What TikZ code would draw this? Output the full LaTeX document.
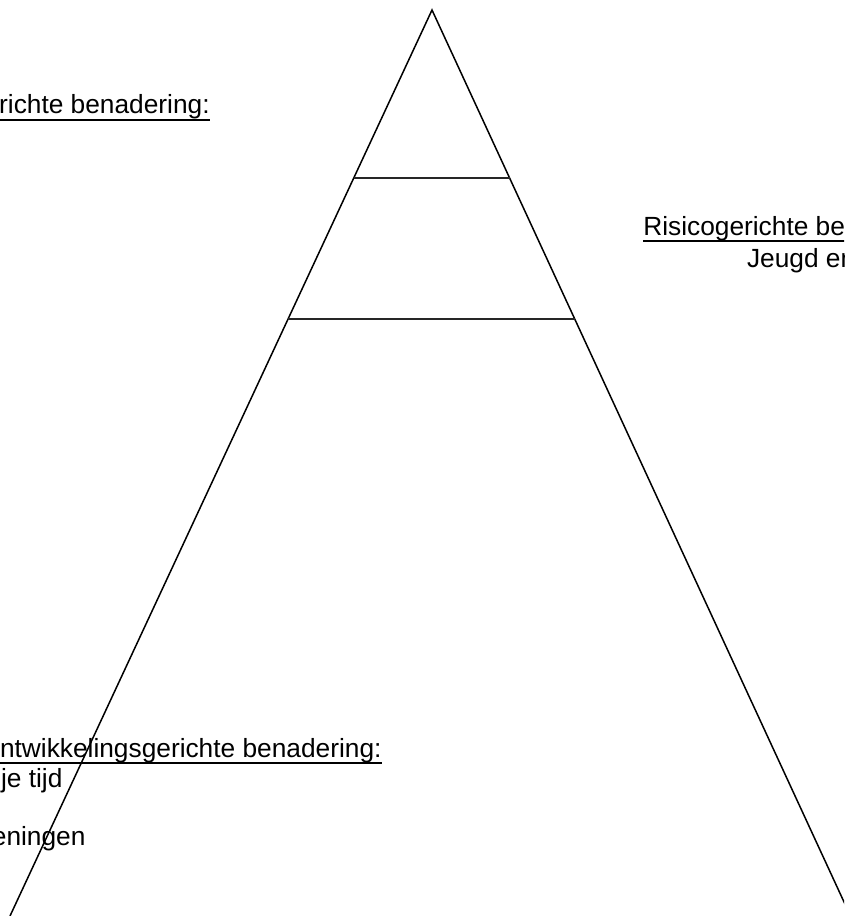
\documentclass[tikz,border=0pt]{standalone}
\usepackage{fontspec}
\setmainfont{Liberation Sans}
\begin{document}
\begin{tikzpicture}[x=1pt,y=-1pt,
  lbl/.style={inner sep=0pt, outer sep=0pt, font=\fontsize{26.3}{30}\selectfont},
  edge/.style={line width=1.5pt, black},
  bar/.style={line width=1.7pt, black!85},
  ul/.style={line width=2pt, black}]
\useasboundingbox (0,0) rectangle (844,916);
\clip (0,0) rectangle (844,916);
% pyramid
\coordinate (apex) at (432,10);
\coordinate (bl) at (10,916);
\coordinate (br) at (850.5,916);
\draw[edge, line join=miter] (bl) -- (apex) -- (br);
\coordinate (l1) at (353.7,178);
\coordinate (r1) at (509.6,178);
\coordinate (l2) at (288.1,319);
\coordinate (r2) at (574.7,319);
\draw[bar] (l1) -- (r1);
\draw[bar] (l2) -- (r2);
% texts
\node[lbl, anchor=base east] (t1) at (209.7,113) {richte benadering:};
\draw[ul] ([yshift=-6.5pt]t1.base west) -- ([yshift=-6.5pt]t1.base east);
\node[lbl, anchor=base west] (t2) at (643.3,235) {Risicogerichte be};
\draw[ul] ([yshift=-6pt]t2.base west) -- ([yshift=-6pt]t2.base east);
\node[lbl, anchor=base west] (t3) at (747,267) {Jeugd en};
\node[lbl, anchor=base west] (t4) at (0,757) {ntwikkelingsgerichte benadering:};
\draw[ul] ([yshift=-5.5pt]t4.base west) -- ([yshift=-5.5pt]t4.base east);
\node[lbl, anchor=base east] (t5) at (62.5,787) {je tijd};
\node[lbl, anchor=base east] (t6) at (85.5,845) {eningen};
\end{tikzpicture}
\end{document}
